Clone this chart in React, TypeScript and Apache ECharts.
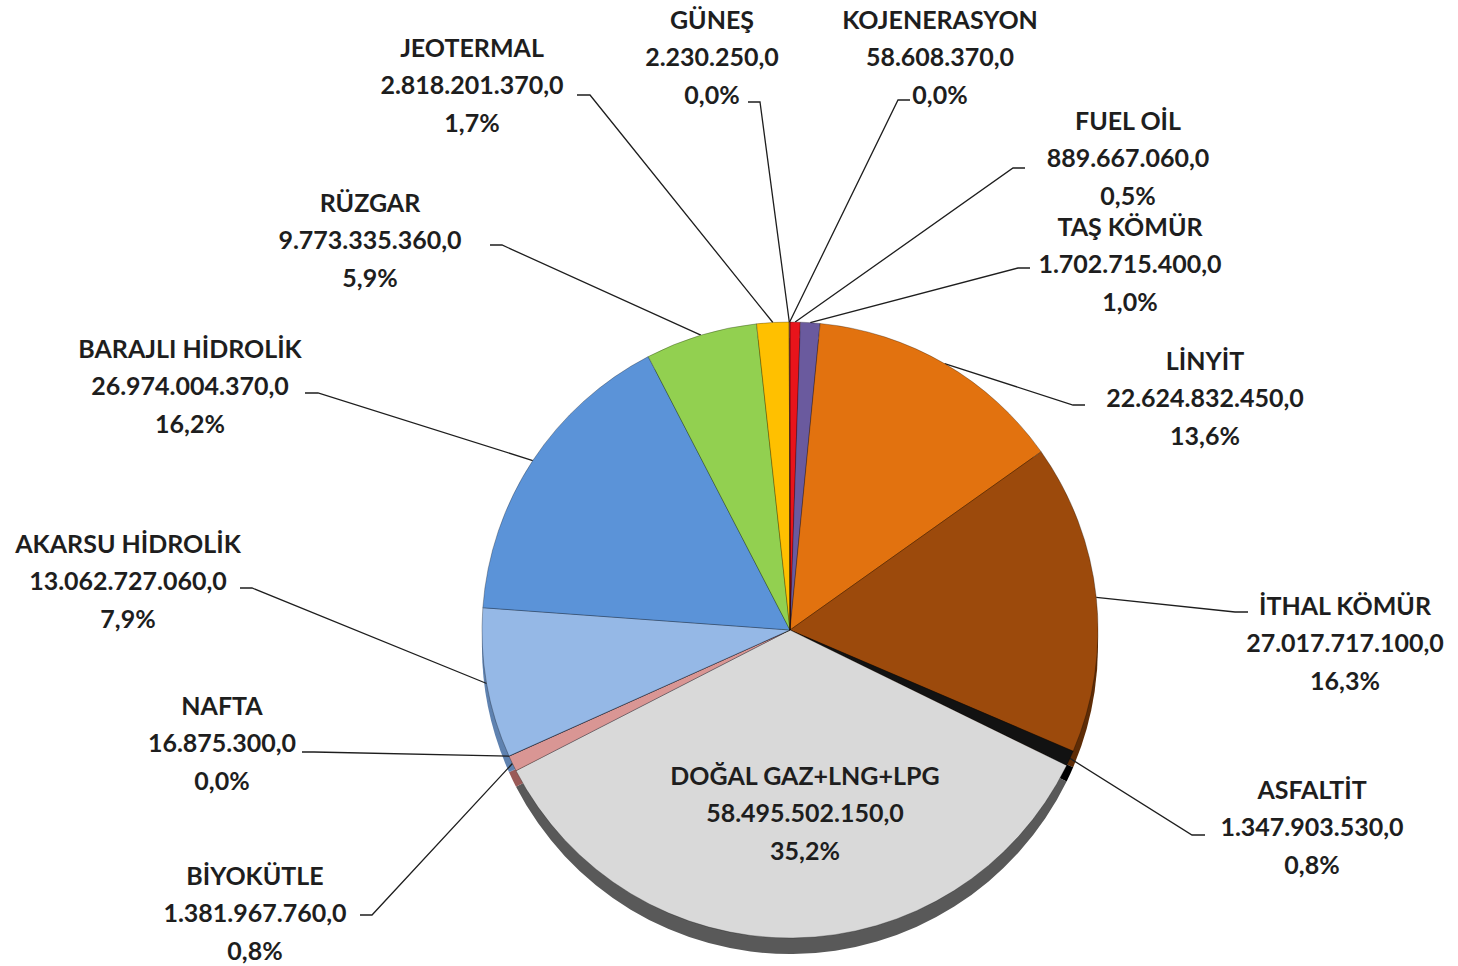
import React, { useEffect, useRef } from "react";
import * as echarts from "echarts";

const names = [
  "FUEL OİL",
  "TAŞ KÖMÜR",
  "LİNYİT",
  "İTHAL KÖMÜR",
  "ASFALTİT",
  "DOĞAL GAZ+LNG+LPG",
  "BİYOKÜTLE",
  "NAFTA",
  "AKARSU HİDROLİK",
  "BARAJLI HİDROLİK",
  "RÜZGAR",
  "JEOTERMAL",
  "GÜNEŞ",
  "KOJENERASYON",
];

const values = [
  889667060, 1702715400, 22624832450, 27017717100, 1347903530, 58495502150,
  1381967760, 16875300, 13062727060, 26974004370, 9773335360, 2818201370,
  2230250, 58608370,
];

const colors = [
  "#e8141b", "#6a5a9e", "#e2720f", "#9c4a0c", "#121212", "#d9d9d9",
  "#d99694", "#4f6fa8", "#95b8e6", "#5b93d8", "#92d050", "#ffc000",
  "#f5d000", "#c0504d",
];

const rimColors = [
  "#8a0a0e", "#3e345e", "#9a4c08", "#5e2c06", "#000000", "#595959",
  "#9a5a58", "#2e4470", "#5f82b0", "#3a66a0", "#5f8e30", "#b08400",
  "#a08800", "#803030",
];

// label layout: centre of the 3-line block, and where the leader line meets the label
const labelPos: [number, number][] = [
  [1128, 157], [1130, 263], [1205, 397], [1345, 642], [1312, 826], [805, 812],
  [255, 912], [222, 742], [128, 580], [190, 385], [370, 239], [472, 84],
  [712, 56], [940, 56],
];
const lineAttach: ([number, number, number] | null)[] = [
  [1025, 168, -12], [1030, 268, -12], [1085, 405, -12], [1248, 612, -13], [1205, 835, -13], null,
  [360, 915, 12], [302, 752, 12], [240, 588, 12], [305, 393, 13], [490, 245, 12], [577, 95, 13],
  [748, 102, 12], [910, 100, -12],
];

const total = values.reduce((a, b) => a + b, 0);
const fmtNum = (v: number) =>
  String(v).replace(/\B(?=(\d{3})+(?!\d))/g, ".") + ",0";
const fmtPct = (v: number) => ((v / total) * 100).toFixed(1).replace(".", ",") + "%";

export default function App() {
  const ref = useRef<HTMLDivElement>(null);
  useEffect(() => {
    if (!ref.current) return;
    const chart = echarts.init(ref.current, undefined, { renderer: "svg" });
    const center = [790, 630];
    const radius = 308;
    chart.setOption({
      animation: false,
      backgroundColor: "#ffffff",
      series: [
        {
          type: "pie",
          silent: true,
          z: 1,
          center: [center[0], center[1] + 16],
          radius: radius,
          startAngle: 90,
          label: { show: false },
          labelLine: { show: false },
          data: names.map((n, i) => ({
            name: n,
            value: values[i],
            itemStyle: { color: rimColors[i] },
          })),
        },
        {
          type: "pie",
          z: 2,
          center: center,
          radius: radius,
          startAngle: 90,
          avoidLabelOverlap: false,
          itemStyle: { borderColor: "rgba(0,0,0,0.35)", borderWidth: 0.8 },
          label: {
            show: true,
            position: "outside",
            color: "#1e1e1e",
            fontFamily: "Lato",
            fontWeight: "bold",
            fontSize: 25,
            lineHeight: 37.5,
            align: "center",
            formatter: (p: any) =>
              `${p.name}\n${fmtNum(p.value)}\n${fmtPct(p.value)}`,
          },
          labelLine: { show: true, lineStyle: { color: "#1e1e1e", width: 1.3 } },
          labelLayout: (p: any) => {
            const i = p.dataIndex;
            const [x, y] = labelPos[i];
            const res: any = { x, y, align: "center", verticalAlign: "middle" };
            const a = lineAttach[i];
            if (a && p.labelLinePoints) {
              const edge = p.labelLinePoints[0];
              res.labelLinePoints = [
                [edge[0], edge[1]],
                [a[0] + a[2], a[1]],
                [a[0], a[1]],
              ];
            }
            return res;
          },
          data: names.map((n, i) => {
            const d: any = {
              name: n,
              value: values[i],
              itemStyle: { color: colors[i] },
            };
            if (lineAttach[i] === null) {
              d.label = { position: "inside" };
              d.labelLine = { show: false };
            }
            return d;
          }),
        },
      ],
    });
    return () => chart.dispose();
  }, []);
  return (
    <div
      ref={ref}
      style={{ position: "absolute", left: 0, top: 0, width: 1458, height: 966 }}
    />
  );
}
